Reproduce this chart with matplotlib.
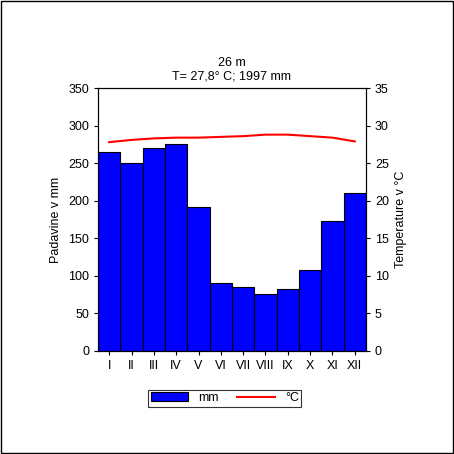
import numpy as np
import matplotlib.pyplot as plt
from matplotlib.patches import Rectangle

plt.rcParams['font.family'] = ['Liberation Sans', 'DejaVu Sans']
plt.rcParams['font.size'] = 9

months = ["I", "II", "III", "IV", "V", "VI", "VII", "VIII", "IX", "X", "XI", "XII"]
precip = [265, 250, 270, 275, 192, 91, 85, 76, 82, 108, 173, 210]
temp = [27.8, 28.1, 28.3, 28.4, 28.4, 28.5, 28.6, 28.8, 28.8, 28.6, 28.4, 27.9]

fig = plt.figure(figsize=(4.54, 4.54), dpi=100)
fig.patches.append(Rectangle((0.002, 0.002), 0.996, 0.996, transform=fig.transFigure,
                             fill=False, edgecolor='black', linewidth=1))
ax = fig.add_axes([0.216, 0.227, 0.59, 0.579])
x = np.arange(len(months))
bars = ax.bar(x, precip, width=1.0, color='#0000ff', edgecolor='black', linewidth=0.8, label='mm')
ax.set_xlim(-0.5, 11.5)
ax.set_ylim(0, 350)
ax.set_yticks(range(0, 351, 50))
ax.set_xticks(x)
ax.set_xticklabels(months)
ax.set_ylabel('Padavine v mm')
ax.tick_params(direction='out', length=3)

ax2 = ax.twinx()
line, = ax2.plot(x, temp, color='red', linewidth=1.5, label='°C')
ax2.set_ylim(0, 35)
ax2.set_yticks(range(0, 36, 5))
ax2.set_ylabel('Temperature v °C')
ax2.tick_params(direction='out', length=3)

ax.set_title('26 m\nT= 27,8° C; 1997 mm', fontsize=9, pad=6)

leg = fig.legend([bars, line], ['mm', '°C'], loc='center', bbox_to_anchor=(0.495, 0.123),
                 ncol=2, frameon=True, fancybox=False, edgecolor='black',
                 handlelength=3, columnspacing=1.5, borderpad=0.2, fontsize=9)
leg.get_frame().set_linewidth(0.8)

fig.savefig('out.png', dpi=100)
